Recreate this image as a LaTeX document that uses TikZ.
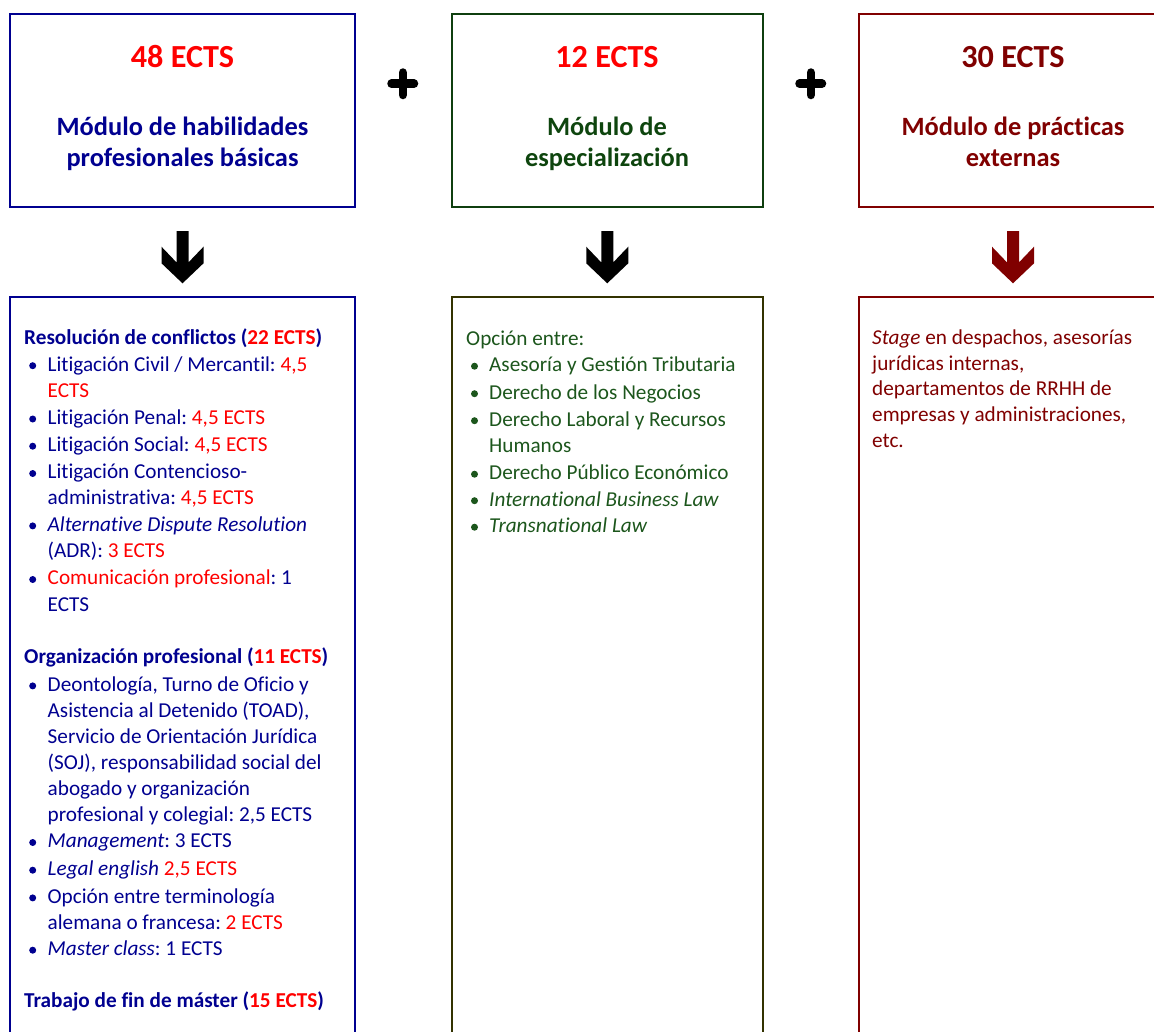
\documentclass[tikz,border=0pt]{standalone}
\usepackage{fontspec}
\setmainfont{Carlito}[Ligatures=NoCommon]
\usetikzlibrary{calc}
\definecolor{navy}{HTML}{000090}
\definecolor{ectsred}{HTML}{FF0000}
\definecolor{dgreen}{HTML}{0F3F0F}
\definecolor{tgreen}{HTML}{0E450E}
\definecolor{bgreen}{HTML}{1C561C}
\definecolor{olivebox}{HTML}{333300}
\definecolor{maroon}{HTML}{800000}
\newcommand\bodyf{\fontsize{21.3}{26}\selectfont}
\newcommand\ttlf{\fontsize{32.3}{36}\selectfont\bfseries}
\newcommand\modf{\fontsize{26.5}{31}\selectfont\bfseries}
\newcommand\rd[1]{\textcolor{ectsred}{#1}}
\frenchspacing
\tikzset{
  box/.style={draw, line width=2bp, rectangle, outer sep=0pt, inner sep=0pt, anchor=north west},
  ttl/.style={anchor=base, inner sep=0pt, font=\ttlf},
  mdl/.style={anchor=base, inner sep=0pt, font=\modf},
  txt/.style={anchor=base west, inner sep=0pt, font=\bodyf},
  plussign/.style={line width=8.5bp, line cap=round},
  downarr/.pic={\fill (-6,0) -- (6,0) -- (6,31.4) -- (21,15.7) -- (21,32.3) -- (0,52.3) -- (-21,32.3) -- (-21,15.7) -- (-6,31.4) -- cycle;}
}
\begin{document}
\begin{tikzpicture}[x=1bp,y=-1bp]
\useasboundingbox (0,0) rectangle (1154,1032);
\clip (0,0) rectangle (1154,1032);
% top boxes
\node[box, color=navy, minimum width=345bp, minimum height=193bp] (t1) at (10,14) {};
\node[box, color=dgreen, minimum width=311.5bp, minimum height=193bp] (t2) at (451.5,14) {};
\node[box, color=maroon, minimum width=308bp, minimum height=193bp] (t3) at (859,14) {};
% bottom boxes
\node[box, color=navy, minimum width=345bp, minimum height=750bp] (b1) at (10,297) {};
\node[box, color=olivebox, minimum width=311.5bp, minimum height=750bp] (b2) at (451.5,297) {};
\node[box, color=maroon, minimum width=308bp, minimum height=750bp] (b3) at (859,297) {};
% plus signs
\draw[plussign] (391.5,83.7) -- (414,83.7) (402.8,72.5) -- (402.8,95);
\draw[plussign] (799.5,83.7) -- (822,83.7) (810.8,72.5) -- (810.8,95);
% arrows
\pic[fill=black] at ([yshift=-24bp]t1.south) {downarr};
\pic[fill=black] at ([yshift=-24bp]t2.south) {downarr};
\pic[fill=maroon] at ([yshift=-24bp]t3.south) {downarr};
% titles
\node[ttl, text=ectsred] (h1) at (182.5,67.5) {48 ECTS};
\node[mdl, text=navy] (m1a) at (182.5,135) {Módulo de habilidades};
\node[mdl, text=navy] (m1b) at (182.5,166.5) {profesionales básicas};
\node[ttl, text=ectsred] (h2) at (607,67.5) {12 ECTS};
\node[mdl, text=tgreen] (m2a) at (607,135) {Módulo de};
\node[mdl, text=tgreen] (m2b) at (607,166.5) {especialización};
\node[ttl, text=maroon] (h3) at (1013,67.5) {30 ECTS};
\node[mdl, text=maroon] (m3a) at (1013,135) {Módulo de prácticas};
\node[mdl, text=maroon] (m3b) at (1013,166.5) {externas};
% column 1
\begin{scope}[every node/.style={txt, text=navy}]
\node (c1h1) at (24,344.3) {\bfseries Resolución de conflictos (\rd{22 ECTS})};
\node (c1a) at (47.5,371) {Litigación Civil / Mercantil: \rd{4,5}};
\node (c1a2) at (47.5,397.5) {\rd{ECTS}};
\node (c1b) at (47.5,424.3) {Litigación Penal: \rd{4,5 ECTS}};
\node (c1c) at (47.5,451.5) {Litigación Social: \rd{4,5 ECTS}};
\node (c1d) at (47.5,478.8) {Litigación Contencioso-};
\node (c1d2) at (47.5,504.8) {administrativa: \rd{4,5 ECTS}};
\node (c1e) at (47.5,531.2) {\itshape Alternative Dispute Resolution};
\node (c1e2) at (47.5,557.2) {(ADR): \rd{3 ECTS}};
\node (c1f) at (47.5,584.8) {\rd{Comunicación profesional}: 1};
\node (c1f2) at (47.5,611.2) {ECTS};
\node (c1h2) at (24,663.2) {\bfseries Organización profesional (\rd{11 ECTS})};
\node (c1g) at (47.5,691.2) {Deontología, Turno de Oficio y};
\node (c1g2) at (47.5,717.2) {Asistencia al Detenido (TOAD),};
\node (c1g3) at (47.5,743.2) {Servicio de Orientación Jurídica};
\node (c1g4) at (47.5,769.2) {(SOJ), responsabilidad social del};
\node (c1g5) at (47.5,795.2) {abogado y organización};
\node (c1g6) at (47.5,821.2) {profesional y colegial: 2,5 ECTS};
\node (c1h) at (47.5,847.8) {\textit{Management}: 3 ECTS};
\node (c1i) at (47.5,875.5) {\textit{Legal english} \rd{2,5 ECTS}};
\node (c1j) at (47.5,903.2) {Opción entre terminología};
\node (c1j2) at (47.5,929) {alemana o francesa: \rd{2 ECTS}};
\node (c1k) at (47.5,955.5) {\textit{Master class}: 1 ECTS};
\node (c1h3) at (24,1007.8) {\bfseries Trabajo de fin de máster (\rd{15 ECTS})};
\end{scope}
\foreach \yy in {371,424.3,451.5,478.8,531.2,584.8,691.2,847.8,875.5,903.2,955.5}
  \fill[navy] (32.7,\yy-5.3) circle (3.5bp);
% column 2
\begin{scope}[every node/.style={txt, text=bgreen}]
\node (c2h) at (466,345.5) {Opción entre:};
\node (c2a) at (489,371.5) {Asesoría y Gestión Tributaria};
\node (c2b) at (489,399) {Derecho de los Negocios};
\node (c2c) at (489,426) {Derecho Laboral y Recursos};
\node (c2c2) at (489,452.5) {Humanos};
\node (c2d) at (489,479.5) {Derecho Público Económico};
\node (c2e) at (489,506) {\itshape International Business Law};
\node (c2f) at (489,532.5) {\itshape Transnational Law};
\end{scope}
\foreach \yy in {371.5,399,426,479.5,506,532.5}
  \fill[bgreen] (474.5,\yy-5.3) circle (3.5bp);
% column 3
\begin{scope}[every node/.style={txt, text=maroon}]
\node (c3a) at (872,344.5) {\textit{Stage} en despachos, asesorías};
\node (c3b) at (872,370.2) {jurídicas internas,};
\node (c3c) at (872,395.8) {departamentos de RRHH de};
\node (c3d) at (872,421.5) {empresas y administraciones,};
\node (c3e) at (872,447.2) {etc.};
\end{scope}
\end{tikzpicture}
\end{document}
